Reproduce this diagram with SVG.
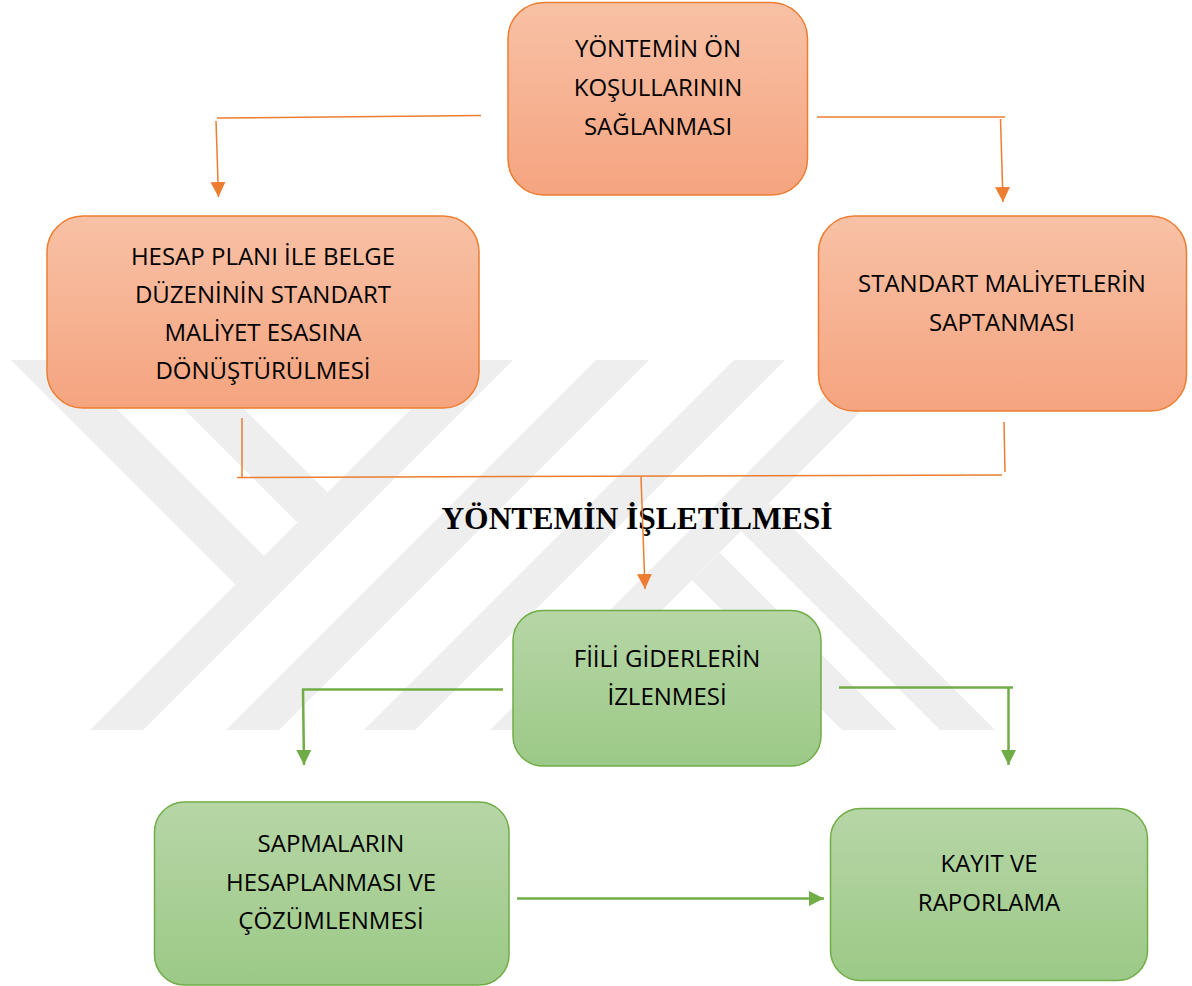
<svg xmlns="http://www.w3.org/2000/svg" width="1192" height="986" viewBox="0 0 1192 986">
<defs>
<linearGradient id="gOr" x1="0" y1="0" x2="0" y2="1">
<stop offset="0" stop-color="#f8c1a6"/>
<stop offset="1" stop-color="#f5a47f"/>
</linearGradient>
<linearGradient id="gGr" x1="0" y1="0" x2="0" y2="1">
<stop offset="0" stop-color="#b6d6a6"/>
<stop offset="1" stop-color="#9cc987"/>
</linearGradient>
<marker id="aOr" viewBox="0 0 10 10" refX="10" refY="5" markerWidth="15" markerHeight="16" markerUnits="userSpaceOnUse" orient="auto">
<path d="M0,0 L10,5 L0,10 z" fill="#ed7d31"/>
</marker>
<marker id="aGr" viewBox="0 0 10 10" refX="10" refY="5" markerWidth="15" markerHeight="16" markerUnits="userSpaceOnUse" orient="auto">
<path d="M0,0 L10,5 L0,10 z" fill="#70ad47"/>
</marker>
</defs>
<style>
.or{fill:url(#gOr);stroke:#ed7d31;stroke-width:1.5}
.gr{fill:url(#gGr);stroke:#70ad47;stroke-width:1.5}
.t{font-family:"Open Sans","Liberation Sans",sans-serif;font-size:24px;fill:#000;text-anchor:middle}
.title{font-family:"Liberation Serif","Times New Roman",serif;font-size:31.5px;font-weight:bold;fill:#000;text-anchor:middle}
.co{fill:none;stroke:#ed7d31;stroke-width:1.5}
.cg{fill:none;stroke:#70ad47;stroke-width:2.5}
.wm{fill:#eeeeee}
</style>
<rect width="1192" height="986" fill="#fff"/>
<g id="watermark">
<polygon class="wm" points="460,360 513,360 143,730 90,730"/>
<polygon class="wm" points="596,360 649,360 279,730 226,730"/>
<polygon class="wm" points="734,360 785,360 415,730 364,730"/>
<polygon class="wm" points="860,360 912,360 542,730 490,730"/>
<polygon class="wm" points="11,360 68,360 264,556 235.5,584.5"/>
<polygon class="wm" points="135,360 195,360 327.5,492.5 297.5,522.5"/>
<polygon class="wm" points="692,580 719.5,552.5 897,730 842,730"/>
<polygon class="wm" points="741,531 768.5,503.5 995,730 940,730"/>
</g>
<text class="title" x="637" y="529">YÖNTEMİN İŞLETİLMESİ</text>
<g id="connectors">
<polyline class="co" points="481,115.5 217,118"/>
<line class="co" x1="216" y1="121" x2="218.5" y2="197" stroke-width="2.5" marker-end="url(#aOr)"/>
<line class="co" x1="817" y1="117" x2="1005" y2="117"/>
<line class="co" x1="1000.5" y1="119" x2="1003" y2="202" stroke-width="2.5" marker-end="url(#aOr)"/>
<line class="co" x1="242" y1="418" x2="242" y2="477"/>
<line class="co" x1="1004" y1="422" x2="1005" y2="472"/>
<line class="co" x1="237" y1="477.5" x2="1002" y2="475"/>
<line class="co" x1="641" y1="477" x2="645" y2="589" stroke-width="2" marker-end="url(#aOr)"/>
<line class="cg" x1="503" y1="689.5" x2="302" y2="689.5"/>
<line class="cg" x1="303" y1="689" x2="304" y2="765" marker-end="url(#aGr)"/>
<line class="cg" x1="839" y1="687.5" x2="1013" y2="687.5"/>
<line class="cg" x1="1008.5" y1="688" x2="1008.5" y2="765" marker-end="url(#aGr)"/>
<line class="cg" x1="517" y1="898.5" x2="824" y2="898.5" marker-end="url(#aGr)"/>
</g>
<g id="n1">
<rect class="or" x="508" y="2.5" width="299.5" height="192.5" rx="36"/>
<text class="t" x="658" y="57">YÖNTEMİN ÖN</text>
<text class="t" x="658" y="96">KOŞULLARININ</text>
<text class="t" x="658" y="135">SAĞLANMASI</text>
</g>
<g id="n2">
<rect class="or" x="47" y="216" width="432" height="192" rx="36"/>
<text class="t" x="263" y="265">HESAP PLANI İLE BELGE</text>
<text class="t" x="263" y="303">DÜZENİNİN STANDART</text>
<text class="t" x="263" y="341">MALİYET ESASINA</text>
<text class="t" x="263" y="379">DÖNÜŞTÜRÜLMESİ</text>
</g>
<g id="n3">
<rect class="or" x="818.5" y="216" width="368" height="195" rx="36"/>
<text class="t" x="1002" y="292">STANDART MALİYETLERİN</text>
<text class="t" x="1002" y="331">SAPTANMASI</text>
</g>
<g id="n4">
<rect class="gr" x="513" y="610.5" width="308" height="155.5" rx="30"/>
<text class="t" x="667" y="667">FİİLİ GİDERLERİN</text>
<text class="t" x="667" y="705">İZLENMESİ</text>
</g>
<g id="n5">
<rect class="gr" x="154.5" y="802" width="354.5" height="183" rx="30"/>
<text class="t" x="331" y="852">SAPMALARIN</text>
<text class="t" x="331" y="891">HESAPLANMASI VE</text>
<text class="t" x="331" y="929">ÇÖZÜMLENMESİ</text>
</g>
<g id="n6">
<rect class="gr" x="830.5" y="808.5" width="317" height="172" rx="30"/>
<text class="t" x="989" y="872">KAYIT VE</text>
<text class="t" x="989" y="911">RAPORLAMA</text>
</g>
</svg>
